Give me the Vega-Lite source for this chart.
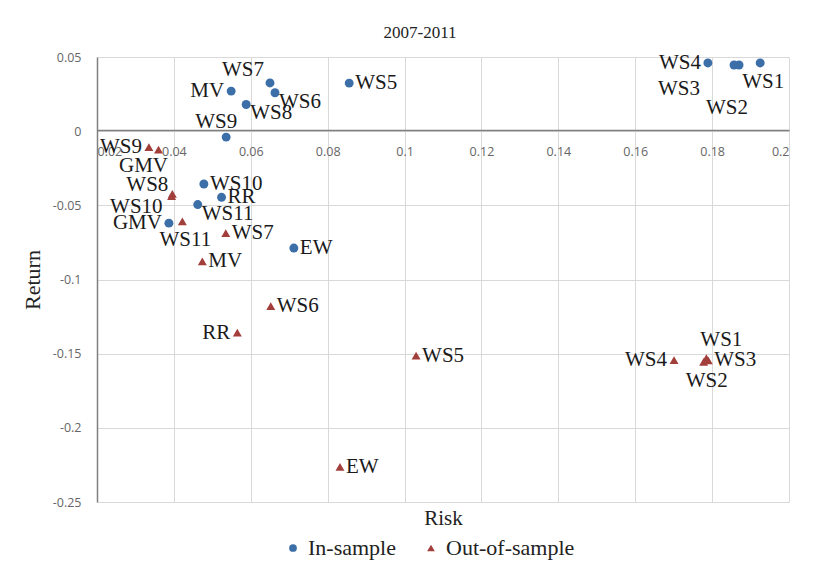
{
  "$schema": "https://vega.github.io/schema/vega-lite/v6.json",
  "autosize": "none",
  "width": 692,
  "height": 445,
  "padding": {"left": 97, "top": 57, "right": 32, "bottom": 84},
  "background": "white",
  "title": {"text": "2007-2011", "font": "Liberation Serif, Times New Roman, serif", "fontSize": 17, "fontWeight": "normal", "color": "#222", "offset": 9, "dx": -23},
  "config": {"view": {"stroke": null}, "text": {"font": "Liberation Serif, Times New Roman, serif"}},
  "data": {"values": [
    {"series": "In-sample", "name": "WS1", "risk": 0.1925, "ret": 0.046},
    {"series": "In-sample", "name": "WS2", "risk": 0.187, "ret": 0.0446},
    {"series": "In-sample", "name": "WS3", "risk": 0.1857, "ret": 0.0446},
    {"series": "In-sample", "name": "WS4", "risk": 0.1789, "ret": 0.046},
    {"series": "In-sample", "name": "WS5", "risk": 0.0856, "ret": 0.0324},
    {"series": "In-sample", "name": "WS6", "risk": 0.0663, "ret": 0.0259},
    {"series": "In-sample", "name": "WS7", "risk": 0.065, "ret": 0.0325},
    {"series": "In-sample", "name": "MV", "risk": 0.0549, "ret": 0.027},
    {"series": "In-sample", "name": "WS8", "risk": 0.0588, "ret": 0.018},
    {"series": "In-sample", "name": "WS9", "risk": 0.0536, "ret": -0.004},
    {"series": "In-sample", "name": "WS10", "risk": 0.0478, "ret": -0.0356},
    {"series": "In-sample", "name": "RR", "risk": 0.0524, "ret": -0.0446},
    {"series": "In-sample", "name": "WS11", "risk": 0.0462, "ret": -0.0495},
    {"series": "In-sample", "name": "GMV", "risk": 0.0387, "ret": -0.062},
    {"series": "In-sample", "name": "EW", "risk": 0.0712, "ret": -0.0788},
    {"series": "Out-of-sample", "name": "WS9", "risk": 0.0335, "ret": -0.0108},
    {"series": "Out-of-sample", "name": "GMV", "risk": 0.036, "ret": -0.0124},
    {"series": "Out-of-sample", "name": "WS8", "risk": 0.0396, "ret": -0.0423},
    {"series": "Out-of-sample", "name": "WS10", "risk": 0.0394, "ret": -0.0438},
    {"series": "Out-of-sample", "name": "WS11", "risk": 0.0422, "ret": -0.0608},
    {"series": "Out-of-sample", "name": "WS7", "risk": 0.0535, "ret": -0.0687},
    {"series": "Out-of-sample", "name": "MV", "risk": 0.0474, "ret": -0.0878},
    {"series": "Out-of-sample", "name": "WS6", "risk": 0.0652, "ret": -0.118},
    {"series": "Out-of-sample", "name": "RR", "risk": 0.0565, "ret": -0.1358},
    {"series": "Out-of-sample", "name": "WS5", "risk": 0.103, "ret": -0.1514},
    {"series": "Out-of-sample", "name": "EW", "risk": 0.0832, "ret": -0.2264},
    {"series": "Out-of-sample", "name": "WS4", "risk": 0.1701, "ret": -0.1543},
    {"series": "Out-of-sample", "name": "WS1", "risk": 0.1785, "ret": -0.153},
    {"series": "Out-of-sample", "name": "WS2", "risk": 0.1778, "ret": -0.1555},
    {"series": "Out-of-sample", "name": "WS3", "risk": 0.179, "ret": -0.1545}
  ]},
  "encoding": {
    "x": {"field": "risk", "type": "quantitative",
      "scale": {"domain": [0.02, 0.2], "nice": false, "zero": false},
      "axis": {"orient": "bottom", "offset": -372, "values": [0.02, 0.04, 0.06, 0.08, 0.1, 0.12, 0.14, 0.16, 0.18, 0.2],
        "labelExpr": "'' + datum.value", "grid": true, "gridColor": "#d9d9d9", "domainColor": "#7f7f7f", "domainWidth": 1.5,
        "ticks": false, "labelPadding": 15, "labelFont": "Open Sans", "labelFontSize": 12.5, "labelColor": "#666666",
        "title": "Risk", "titleFont": "Liberation Serif, Times New Roman, serif", "titleFontSize": 21, "titleFontWeight": "normal", "titleColor": "#222",
        "titleY": 388, "titleBaseline": "middle"}},
    "y": {"field": "ret", "type": "quantitative",
      "scale": {"domain": [-0.25, 0.05], "nice": false, "zero": false},
      "axis": {"values": [0.05, 0, -0.05, -0.1, -0.15, -0.2, -0.25], "labelExpr": "'' + datum.value",
        "grid": true, "gridColor": "#d9d9d9", "domainColor": "#7f7f7f", "domainWidth": 1.5, "ticks": false,
        "labelPadding": 16, "labelFont": "Open Sans", "labelFontSize": 12.5, "labelColor": "#666666",
        "title": "Return", "titleFont": "Liberation Serif, Times New Roman, serif", "titleFontSize": 22, "titleFontWeight": "normal", "titleColor": "#222", "titlePadding": 8}}
  },
  "layer": [
    {"mark": {"type": "point", "filled": true, "opacity": 1, "size": 80},
     "encoding": {
       "shape": {"field": "series", "type": "nominal", "scale": {"domain": ["In-sample", "Out-of-sample"], "range": ["circle", "triangle-up"]},
         "legend": {"orient": "none", "legendX": 185, "legendY": 480, "direction": "horizontal", "title": null,
           "labelFont": "Liberation Serif, Times New Roman, serif", "labelFontSize": 22, "labelColor": "#222", "symbolSize": 60, "columnPadding": 24, "labelOffset": 4}},
       "color": {"field": "series", "type": "nominal", "scale": {"domain": ["In-sample", "Out-of-sample"], "range": ["#3c6ea8", "#a23f3b"]}}
     }},
    {"transform": [{"filter": "(datum.series=='In-sample' && indexof(['WS5','WS10','RR','EW'], datum.name)>=0) || (datum.series=='Out-of-sample' && indexof(['WS7','MV','WS6','WS5','EW','WS3'], datum.name)>=0)"}],
     "mark": {"type": "text", "align": "left", "baseline": "middle", "dx": 6, "dy": 0, "fontSize": 21, "color": "#1a1a1a"},
     "encoding": {"text": {"field": "name"}}},
    {"transform": [{"filter": "datum.series=='In-sample' && indexof(['WS6','WS8','WS11'], datum.name)>=0"}],
     "mark": {"type": "text", "align": "left", "baseline": "middle", "dx": 4, "dy": 9, "fontSize": 21, "color": "#1a1a1a"},
     "encoding": {"text": {"field": "name"}}},
    {"transform": [{"filter": "(datum.series=='In-sample' && indexof(['WS4','MV','GMV'], datum.name)>=0) || (datum.series=='Out-of-sample' && indexof(['WS9','RR','WS4'], datum.name)>=0)"}],
     "mark": {"type": "text", "align": "right", "baseline": "middle", "dx": -7, "dy": 0, "fontSize": 21, "color": "#1a1a1a"},
     "encoding": {"text": {"field": "name"}}},
    {"transform": [{"filter": "datum.series=='In-sample' && datum.name=='WS7'"}],
     "mark": {"type": "text", "align": "right", "baseline": "middle", "dx": -6, "dy": -13, "fontSize": 21, "color": "#1a1a1a"},
     "encoding": {"text": {"field": "name"}}},
    {"transform": [{"filter": "datum.series=='In-sample' && datum.name=='WS9'"}],
     "mark": {"type": "text", "align": "center", "baseline": "middle", "dx": -10, "dy": -15, "fontSize": 21, "color": "#1a1a1a"},
     "encoding": {"text": {"field": "name"}}},
    {"transform": [{"filter": "(datum.series=='In-sample' && datum.name=='WS1') || (datum.series=='Out-of-sample' && indexof(['WS2','WS11'], datum.name)>=0)"}],
     "mark": {"type": "text", "align": "center", "baseline": "middle", "dx": 3, "dy": 19, "fontSize": 21, "color": "#1a1a1a"},
     "encoding": {"text": {"field": "name"}}},
    {"transform": [{"filter": "datum.series=='In-sample' && datum.name=='WS3'"}],
     "mark": {"type": "text", "align": "center", "baseline": "middle", "dx": -55, "dy": 24, "fontSize": 21, "color": "#1a1a1a"},
     "encoding": {"text": {"field": "name"}}},
    {"transform": [{"filter": "datum.series=='In-sample' && datum.name=='WS2'"}],
     "mark": {"type": "text", "align": "center", "baseline": "middle", "dx": -12, "dy": 43, "fontSize": 21, "color": "#1a1a1a"},
     "encoding": {"text": {"field": "name"}}},
    {"transform": [{"filter": "datum.series=='Out-of-sample' && datum.name=='WS1'"}],
     "mark": {"type": "text", "align": "center", "baseline": "middle", "dx": 15, "dy": -18, "fontSize": 21, "color": "#1a1a1a"},
     "encoding": {"text": {"field": "name"}}},
    {"transform": [{"filter": "datum.series=='Out-of-sample' && datum.name=='GMV'"}],
     "mark": {"type": "text", "align": "center", "baseline": "middle", "dx": -15, "dy": 16, "fontSize": 21, "color": "#1a1a1a"},
     "encoding": {"text": {"field": "name"}}},
    {"transform": [{"filter": "datum.series=='Out-of-sample' && datum.name=='WS8'"}],
     "mark": {"type": "text", "align": "right", "baseline": "middle", "dx": -4, "dy": -9, "fontSize": 21, "color": "#1a1a1a"},
     "encoding": {"text": {"field": "name"}}},
    {"transform": [{"filter": "datum.series=='Out-of-sample' && datum.name=='WS10'"}],
     "mark": {"type": "text", "align": "right", "baseline": "middle", "dx": -9, "dy": 11, "fontSize": 21, "color": "#1a1a1a"},
     "encoding": {"text": {"field": "name"}}}
  ]
}
